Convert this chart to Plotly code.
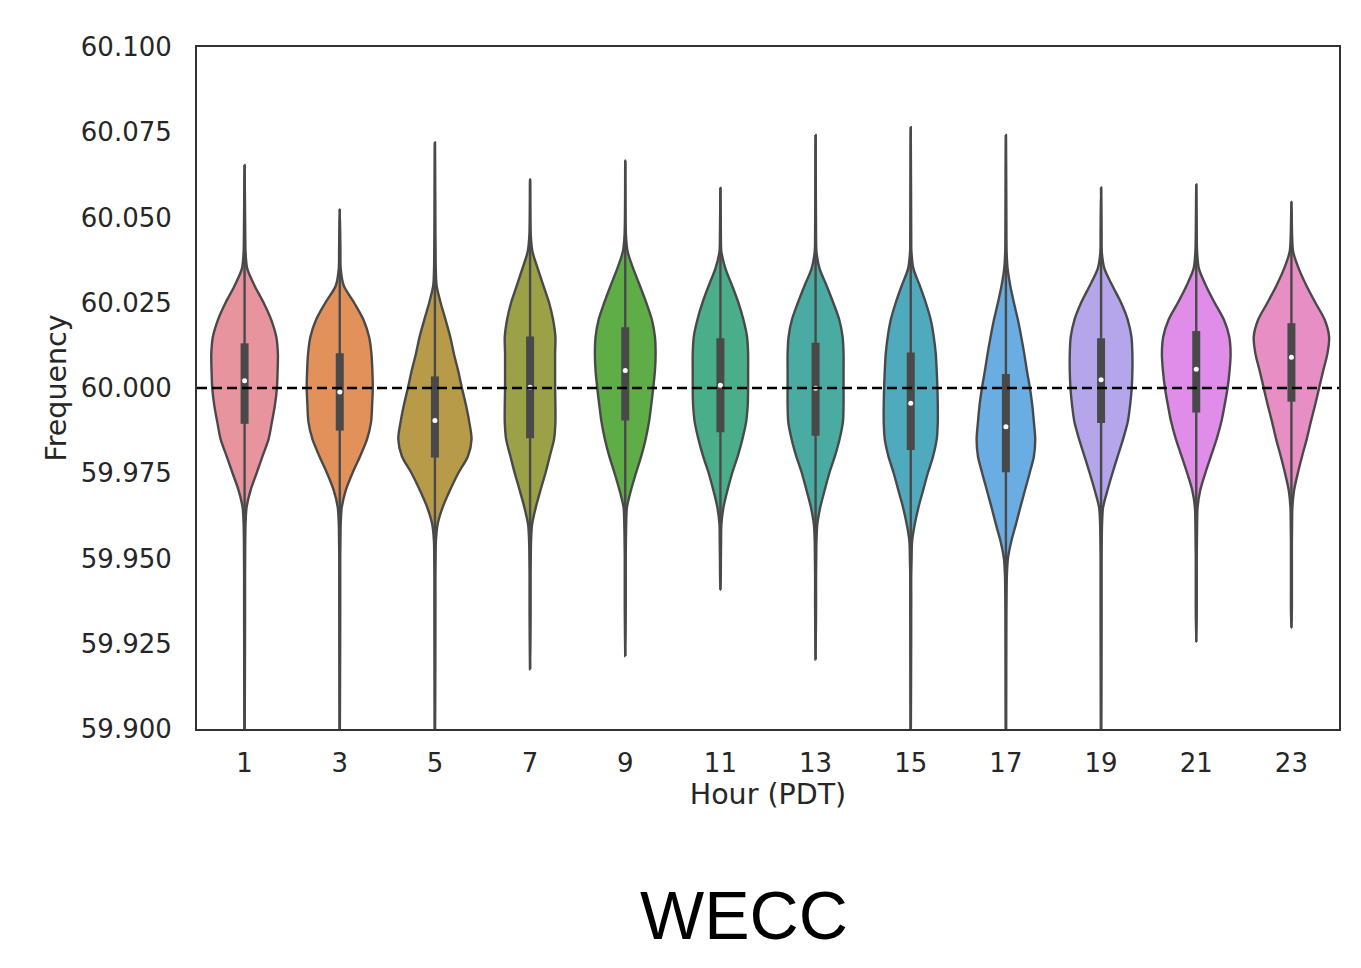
import plotly.graph_objects as go

# ---------------- data ----------------
hours = [1, 3, 5, 7, 9, 11, 13, 15, 17, 19, 21, 23]

# frequency levels at which violin half-widths were read
levels = [60.045, 60.040, 60.035, 60.030, 60.025, 60.020, 60.015, 60.010, 60.005, 60.000,
          59.995, 59.990, 59.985, 59.980, 59.975, 59.970, 59.965, 59.960, 59.955, 59.950,
          59.945, 59.940, 59.935]

# violin half-widths (category units) at each level, one row per hour
half_widths = [
    [0.007, 0.010, 0.028, 0.105, 0.200, 0.280, 0.333, 0.350, 0.347, 0.340, 0.319, 0.287, 0.252, 0.189, 0.126, 0.063, 0.021, 0.010, 0.007, 0.006, 0.005, 0.005, 0.005],
    [0.005, 0.007, 0.010, 0.042, 0.151, 0.249, 0.308, 0.333, 0.343, 0.347, 0.340, 0.329, 0.287, 0.214, 0.133, 0.063, 0.021, 0.010, 0.007, 0.005, 0.005, 0.005, 0.005],
    [0.005, 0.007, 0.009, 0.018, 0.060, 0.112, 0.161, 0.200, 0.245, 0.284, 0.326, 0.361, 0.385, 0.347, 0.245, 0.158, 0.081, 0.028, 0.010, 0.007, 0.005, 0.005, 0.005],
    [0.007, 0.025, 0.081, 0.140, 0.200, 0.242, 0.266, 0.263, 0.263, 0.263, 0.266, 0.266, 0.252, 0.207, 0.161, 0.109, 0.060, 0.021, 0.010, 0.007, 0.005, 0.005, 0.005],
    [0.007, 0.025, 0.084, 0.154, 0.221, 0.280, 0.312, 0.319, 0.312, 0.294, 0.273, 0.249, 0.214, 0.168, 0.112, 0.060, 0.018, 0.010, 0.007, 0.005, 0.005, 0.005, 0.005],
    [0.005, 0.010, 0.053, 0.123, 0.189, 0.242, 0.280, 0.291, 0.291, 0.291, 0.287, 0.270, 0.231, 0.182, 0.123, 0.074, 0.032, 0.010, 0.007, 0.005, 0.004, 0.004, 0.004],
    [0.005, 0.009, 0.042, 0.116, 0.186, 0.249, 0.284, 0.294, 0.294, 0.294, 0.294, 0.287, 0.252, 0.203, 0.144, 0.095, 0.049, 0.018, 0.009, 0.007, 0.005, 0.005, 0.005],
    [0.005, 0.007, 0.028, 0.095, 0.158, 0.210, 0.242, 0.263, 0.273, 0.280, 0.284, 0.284, 0.273, 0.235, 0.179, 0.130, 0.081, 0.042, 0.014, 0.009, 0.005, 0.005, 0.005],
    [0.005, 0.007, 0.018, 0.046, 0.084, 0.126, 0.161, 0.193, 0.221, 0.252, 0.277, 0.294, 0.308, 0.294, 0.249, 0.200, 0.151, 0.105, 0.056, 0.021, 0.010, 0.007, 0.005],
    [0.005, 0.007, 0.035, 0.119, 0.210, 0.280, 0.319, 0.329, 0.329, 0.322, 0.305, 0.280, 0.231, 0.175, 0.119, 0.067, 0.021, 0.010, 0.007, 0.005, 0.005, 0.005, 0.005],
    [0.005, 0.009, 0.028, 0.102, 0.193, 0.291, 0.347, 0.361, 0.350, 0.329, 0.298, 0.263, 0.214, 0.154, 0.095, 0.042, 0.014, 0.009, 0.007, 0.005, 0.005, 0.005, 0.005],
    [0.007, 0.018, 0.077, 0.158, 0.252, 0.350, 0.396, 0.378, 0.333, 0.291, 0.249, 0.203, 0.161, 0.112, 0.067, 0.028, 0.010, 0.007, 0.005, 0.005, 0.005, 0.005, 0.005],
]

# extent of each distribution (violin tails)
tail_max = [60.0654, 60.0525, 60.0720, 60.0612, 60.0667, 60.0587, 60.0742, 60.0765, 60.0742, 60.0588, 60.0597, 60.0547]
tail_min = [59.880, 59.880, 59.880, 59.9175, 59.9214, 59.9408, 59.9204, 59.880, 59.880, 59.880, 59.9255, 59.9297]

# inner box statistics
q3 = [60.0131, 60.0102, 60.0034, 60.0151, 60.0178, 60.0146, 60.0133, 60.0104, 60.0041, 60.0146, 60.0167, 60.0190]
median = [60.0021, 59.9988, 59.9905, 60.0002, 60.0051, 60.0008, 59.9999, 59.9955, 59.9886, 60.0024, 60.0055, 60.0090]
q1 = [59.9895, 59.9875, 59.9796, 59.9853, 59.9905, 59.9870, 59.9860, 59.9818, 59.9753, 59.9897, 59.9928, 59.9960]

colors = ["#e8949f", "#e2915a", "#b89b49", "#9aa146", "#5fad47", "#49ae89",
          "#4aaba2", "#4faabd", "#6aade2", "#b5a6eb", "#df8de8", "#e78fc4"]

y_ticks = [59.900, 59.925, 59.950, 59.975, 60.000, 60.025, 60.050, 60.075, 60.100]

# ---------------- figure ----------------
GRAY = "#494949"
fig = go.Figure()

for i, h in enumerate(hours):
    lv = [(L, w) for L, w in zip(levels, half_widths[i]) if tail_min[i] < L < tail_max[i]]
    xs = [i] + [i + w for L, w in lv] + [i] + [i - w for L, w in reversed(lv)] + [i]
    ys = [tail_max[i]] + [L for L, w in lv] + [tail_min[i]] + [L for L, w in reversed(lv)] + [tail_max[i]]
    fig.add_trace(go.Scatter(
        x=xs, y=ys, mode="lines", fill="toself", fillcolor=colors[i],
        line=dict(color=GRAY, width=2.4, shape="spline", smoothing=0.8),
        hoverinfo="skip", showlegend=False))
    # whisker / tail line
    fig.add_trace(go.Scatter(
        x=[i, i], y=[tail_min[i], tail_max[i]], mode="lines",
        line=dict(color=GRAY, width=2.4), hoverinfo="skip", showlegend=False))
    # box
    fig.add_trace(go.Scatter(
        x=[i, i], y=[q1[i], q3[i]], mode="lines",
        line=dict(color=GRAY, width=8), hoverinfo="skip", showlegend=False))
    # median
    fig.add_trace(go.Scatter(
        x=[i], y=[median[i]], mode="markers",
        marker=dict(color="white", size=5, line=dict(width=0)),
        hoverinfo="skip", showlegend=False))

fig.add_shape(type="line", xref="paper", x0=0, x1=1, yref="y", y0=60.0, y1=60.0,
              line=dict(color="black", width=2.4, dash="10px,5px"), layer="above")

fig.add_annotation(text="WECC", xref="paper", yref="paper", x=0.479, y=-0.273,
                   xanchor="center", yanchor="middle", showarrow=False,
                   font=dict(family="Liberation Sans, Arial, sans-serif", size=68, color="black"))

axis_font = dict(family="DejaVu Sans, sans-serif", size=26, color="#262626")
title_font = dict(family="DejaVu Sans, sans-serif", size=28.5, color="#262626")

fig.update_layout(
    width=1361, height=968,
    margin=dict(l=197, r=22, t=47, b=239),
    paper_bgcolor="white", plot_bgcolor="white",
    xaxis=dict(range=[-0.5, 11.5], tickmode="array", tickvals=list(range(len(hours))),
               ticktext=[str(h) for h in hours], tickfont=axis_font,
               showgrid=False, zeroline=False, showline=True, mirror=True,
               linecolor="#333333", linewidth=2,
               ticks="outside", ticklen=10, tickcolor="rgba(0,0,0,0)",
               title=dict(text="Hour (PDT)", font=title_font, standoff=7)),
    yaxis=dict(range=[59.9, 60.1], tickmode="array", tickvals=y_ticks,
               ticktext=[f"{v:.3f}" for v in y_ticks], tickfont=axis_font,
               showgrid=False, zeroline=False, showline=True, mirror=True,
               linecolor="#333333", linewidth=2,
               ticks="outside", ticklen=18, tickcolor="rgba(0,0,0,0)",
               title=dict(text="Frequency", font=title_font, standoff=6)),
)

fig.write_html("out.html")
